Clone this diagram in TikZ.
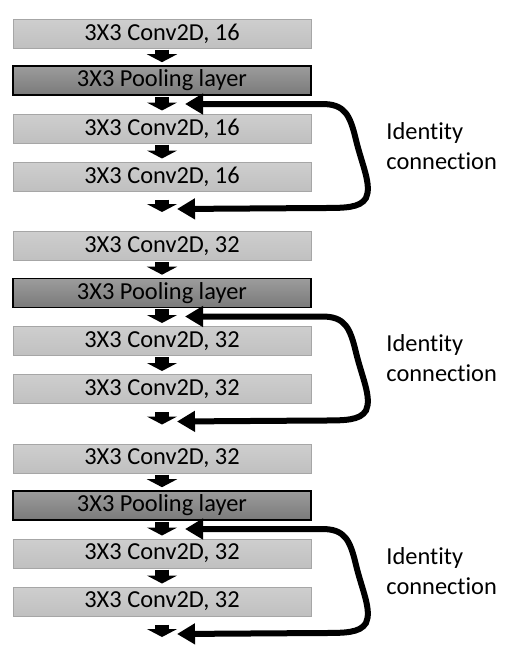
\documentclass[tikz,border=0pt]{standalone}
\usepackage{fontspec}
\setmainfont{Carlito}[Ligatures=NoCommon]
\usetikzlibrary{arrows.meta}
\definecolor{convgrey}{RGB}{206,206,206}
\definecolor{convgreydark}{RGB}{192,192,192}
\definecolor{convedge}{RGB}{166,166,166}
\definecolor{poolgrey}{RGB}{156,156,156}
\definecolor{poolgreydark}{RGB}{122,122,122}

\tikzset{
  layer/.style={minimum width=149pt, minimum height=14.5pt, inner sep=0pt, font=\fontsize{12.2}{15}\selectfont},
  conv/.style={layer, draw=convedge, line width=0.5pt, top color=convgrey, bottom color=convgreydark},
  pool/.style={layer, draw=black, line width=0.8pt, top color=poolgrey, bottom color=poolgreydark},
  flow/.style={line width=7pt, -{Triangle[width=15pt,length=4pt]}, shorten <=0.5pt, shorten >=1.5pt},
  skip/.style={line width=3pt, {Triangle[width=10pt,length=9pt]}-{Triangle[width=10pt,length=9pt]}},
  note/.style={anchor=west, align=left, inner sep=0pt, font=\fontsize{12.2}{15}\selectfont}
}

\begin{document}
\begin{tikzpicture}[x=0.5pt, y=-0.5pt]
    \useasboundingbox (0,0) rectangle (506,653);

    \foreach \g/\ch in {0/16, 1/32, 2/32} {
    \begin{scope}[shift={(0,212.5*\g)}]
        % Layers of one block
        \node[conv] (c1-\g) at (162,33.5) {3X3 Conv2D, \ch};
        \node[pool] (p-\g) at (162,80.5) {3X3 Pooling layer};
        \node[conv] (c2-\g) at (162,128.5) {3X3 Conv2D, \ch};
        \node[conv] (c3-\g) at (162,176.5) {3X3 Conv2D, \ch};
        \coordinate (out-\g) at (162,215);

        % Forward arrows
        \draw[flow] (c1-\g) -- (p-\g);
        \draw[flow] (p-\g) -- (c2-\g);
        \draw[flow] (c2-\g) -- (c3-\g);
        \draw[flow, shorten <=4pt] (c3-\g) -- (out-\g);

        % Skip path round the two convolutions
        \coordinate (sk1-\g) at (185,104);
        \coordinate (sk2-\g) at (177,209);
        \draw[skip] (sk1-\g) -- (322,104) .. controls (345,104) and (350,115) .. (356,140)
            .. controls (362,165) and (372,185) .. (366,198)
            .. controls (360,208) and (345,208) .. (322,208) -- (sk2-\g);
        \node[note] (id-\g) at (386,146) {Identity\\connection};
    \end{scope}
    }
\end{tikzpicture}
\end{document}
